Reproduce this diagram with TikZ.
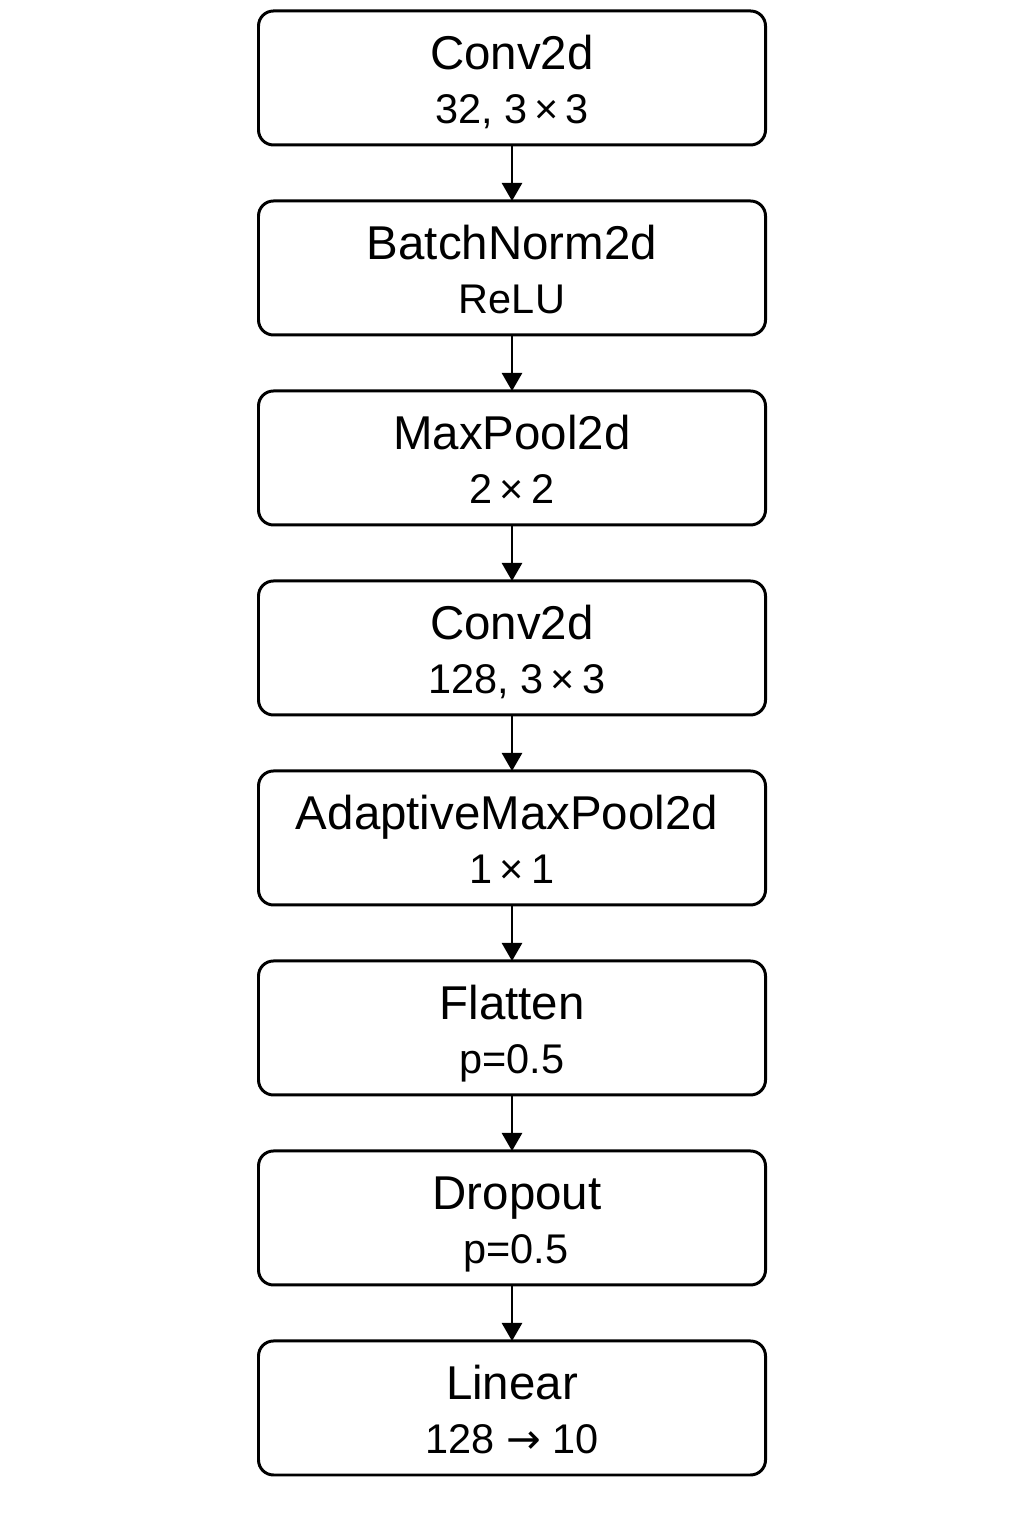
\documentclass[tikz,border=0pt]{standalone}
\usepackage{fontspec}
\setmainfont{Liberation Sans}
\newfontfamily\arrowfont{DejaVu Sans}
\usetikzlibrary{positioning, arrows.meta}

\tikzset{
    layer/.style={draw, line width=0.85pt, rounded corners=0.15cm, minimum width=5.07cm, minimum height=1.34cm, outer sep=0pt},
    ttl/.style={anchor=base, inner sep=0pt, font=\fontsize{13.5}{16}\selectfont},
    sub/.style={anchor=base, inner sep=0pt, font=\fontsize{11.8}{14}\selectfont},
    flow/.style={line width=0.75pt, -{Triangle[length=0.18cm, width=0.2cm]}}
}

\begin{document}
\begin{tikzpicture}
    \useasboundingbox (0,0) rectangle (10.24,15.36);
    % layers, top to bottom
    \node[layer] (conva) at (5.12,14.58) {};
    \node[layer, below=0.56cm of conva] (bnorm) {};
    \node[layer, below=0.56cm of bnorm] (mpool) {};
    \node[layer, below=0.56cm of mpool] (convb) {};
    \node[layer, below=0.56cm of convb] (apool) {};
    \node[layer, below=0.56cm of apool] (flat) {};
    \node[layer, below=0.56cm of flat] (drop) {};
    \node[layer, below=0.56cm of drop] (lin) {};
    % labels
    \node[ttl] (conva-t) at ([yshift=0.08cm]conva.center) {Conv2d};
    \node[sub] (conva-s) at ([yshift=-0.455cm]conva.center) {32, 3\,×\,3};
    \node[ttl] (bnorm-t) at ([yshift=0.08cm]bnorm.center) {BatchNorm2d};
    \node[sub] (bnorm-s) at ([yshift=-0.455cm]bnorm.center) {ReLU};
    \node[ttl] (mpool-t) at ([yshift=0.08cm]mpool.center) {MaxPool2d};
    \node[sub] (mpool-s) at ([yshift=-0.455cm]mpool.center) {2\,×\,2};
    \node[ttl] (convb-t) at ([yshift=0.08cm]convb.center) {Conv2d};
    \node[sub] (convb-s) at ([xshift=0.05cm, yshift=-0.455cm]convb.center) {128, 3\,×\,3};
    \node[ttl] (apool-t) at ([xshift=-0.05cm, yshift=0.08cm]apool.center) {AdaptiveMaxPool2d};
    \node[sub] (apool-s) at ([yshift=-0.455cm]apool.center) {1\,×\,1};
    \node[ttl] (flat-t) at ([yshift=0.08cm]flat.center) {Flatten};
    \node[sub] (flat-s) at ([yshift=-0.455cm]flat.center) {p=0.5};
    \node[ttl] (drop-t) at ([xshift=0.05cm, yshift=0.08cm]drop.center) {Dropout};
    \node[sub] (drop-s) at ([xshift=0.04cm, yshift=-0.455cm]drop.center) {p=0.5};
    \node[ttl] (lin-t) at ([yshift=0.08cm]lin.center) {Linear};
    \node[sub] (lin-s) at ([yshift=-0.455cm]lin.center) {128 {\arrowfont →} 10};
    % arrows
    \draw[flow] (conva) -- (bnorm);
    \draw[flow] (bnorm) -- (mpool);
    \draw[flow] (mpool) -- (convb);
    \draw[flow] (convb) -- (apool);
    \draw[flow] (apool) -- (flat);
    \draw[flow] (flat) -- (drop);
    \draw[flow] (drop) -- (lin);
\end{tikzpicture}
\end{document}
